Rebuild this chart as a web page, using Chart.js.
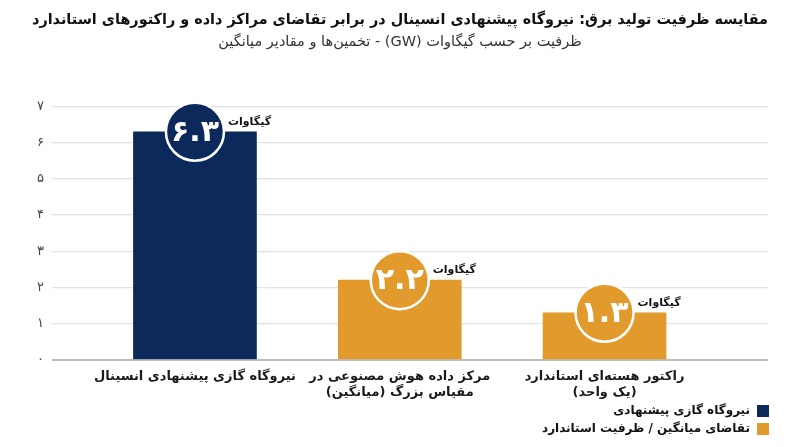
<!DOCTYPE html>
<html>
<head>
<meta charset="utf-8">
<script src="https://cdn.jsdelivr.net/npm/chart.js@4"></script>
<style>
html,body{margin:0;padding:0;background:#fff;}
#wrap{width:800px;height:447px;position:relative;}
canvas{direction:rtl;}
</style>
</head>
<body>
<div id="wrap"><canvas id="c" width="800" height="447"></canvas></div>
<script>
const titleText = 'مقایسه ظرفیت تولید برق: نیروگاه پیشنهادی انسینال در برابر تقاضای مراکز داده و راکتورهای استاندارد';
const subtitleText = 'ظرفیت بر حسب گیگاوات (GW) - تخمین‌ها و مقادیر میانگین';
const categories = [
  ['نیروگاه گازی پیشنهادی انسینال'],
  ['مرکز داده هوش مصنوعی در', 'مقیاس بزرگ (میانگین)'],
  ['راکتور هسته‌ای استاندارد', '(یک واحد)']
];
const seriesNames = ['نیروگاه گازی پیشنهادی', 'تقاضای میانگین / ظرفیت استاندارد'];
const proposedValues = [6.3, null, null];
const demandValues = [null, 2.2, 1.3];
const yTickValues = [0, 1, 2, 3, 4, 5, 6, 7];
const unitLabel = 'گیگاوات';

const NAVY = '#0b2a5b';
const ORANGE = '#e19a2b';
const FONT = "'DejaVu Sans', sans-serif";

const fa = s => String(s).replace(/\d/g, d => '۰۱۲۳۴۵۶۷۸۹'[d]);
const toPoints = arr => arr.map((v, i) => ({x: i, y: v}));

const bubblePlugin = {
  id: 'bubbles',
  afterDatasetsDraw(chart) {
    const ctx = chart.ctx;
    chart.data.datasets.forEach((ds, di) => {
      const meta = chart.getDatasetMeta(di);
      meta.data.forEach((bar, i) => {
        const v = ds.data[i].y;
        if (v == null) return;
        const cx = bar.x, cy = bar.y, r = 29;
        ctx.save();
        ctx.beginPath();
        ctx.arc(cx, cy, r, 0, Math.PI * 2);
        ctx.fillStyle = ds.backgroundColor;
        ctx.fill();
        ctx.lineWidth = 2.5;
        ctx.strokeStyle = '#ffffff';
        ctx.stroke();
        ctx.fillStyle = '#ffffff';
        ctx.font = 'bold 30px ' + FONT;
        ctx.textAlign = 'center';
        ctx.textBaseline = 'middle';
        ctx.direction = 'ltr';
        ctx.fillText(fa(v), cx, cy + 1);
        ctx.direction = 'rtl';
        ctx.fillStyle = '#111111';
        ctx.font = 'bold 11px ' + FONT;
        ctx.textAlign = 'left';
        ctx.fillText(unitLabel, cx + r + 4, cy - 10);
        ctx.restore();
      });
    });
  }
};

const legendPlugin = {
  id: 'stackLegend',
  afterDraw(chart) {
    const ctx = chart.ctx;
    const right = chart.chartArea.right + 1;
    ctx.save();
    ctx.font = 'bold 12px ' + FONT;
    ctx.textBaseline = 'middle';
    ctx.textAlign = 'right';
    ctx.direction = 'rtl';
    chart.data.datasets.forEach((ds, i) => {
      const y = chart.height - 36 + i * 18;
      ctx.fillStyle = ds.backgroundColor;
      ctx.fillRect(right - 12, y - 6, 12, 12);
      ctx.fillStyle = '#111111';
      ctx.fillText(ds.label, right - 19, y);
    });
    ctx.restore();
  }
};

new Chart(document.getElementById('c'), {
  type: 'bar',
  data: {
    datasets: [
      {label: seriesNames[0], data: toPoints(proposedValues), backgroundColor: NAVY},
      {label: seriesNames[1], data: toPoints(demandValues), backgroundColor: ORANGE}
    ]
  },
  plugins: [bubblePlugin, legendPlugin],
  options: {
    responsive: false,
    animation: false,
    devicePixelRatio: 1,
    layout: {padding: {left: 32, right: 32, top: 0, bottom: 38}},
    datasets: {bar: {grouped: false, barThickness: 123}},
    plugins: {
      legend: {display: false},
      tooltip: {enabled: false},
      title: {
        display: true, text: titleText, color: '#111111',
        font: {family: FONT, size: 15, weight: 'bold'},
        padding: {top: 11, bottom: 5}
      },
      subtitle: {
        display: true, text: subtitleText, color: '#333333',
        font: {family: FONT, size: 14.5, weight: 'normal'},
        padding: {top: 0, bottom: 55}
      }
    },
    scales: {
      x: {
        type: 'linear',
        offset: false,
        min: -0.698, max: 2.798,
        grid: {display: false, offset: false, drawTicks: false},
        border: {display: false},
        afterBuildTicks(scale) { scale.ticks = categories.map((c, i) => ({value: i})); },
        ticks: {
          autoSkip: false, maxRotation: 0, padding: 9,
          color: '#1a1a1a',
          font: {family: FONT, size: 13, weight: 'bold', lineHeight: 1.2},
          callback: (v) => categories[v]
        }
      },
      y: {
        min: 0, max: 7,
        afterBuildTicks(scale) { scale.ticks = yTickValues.map(v => ({value: v})); },
        afterFit(scale) { scale.width = 20; },
        grid: {
          color: c => c.tick && c.tick.value === 0 ? '#bdbdbd' : '#e2e2e2',
          lineWidth: c => c.tick && c.tick.value === 0 ? 2 : 1.2,
          drawTicks: false
        },
        border: {display: false},
        ticks: {
          padding: 8, color: '#444444',
          font: {family: FONT, size: 13},
          callback: v => fa(v)
        }
      }
    }
  }
});
</script>
</body>
</html>
